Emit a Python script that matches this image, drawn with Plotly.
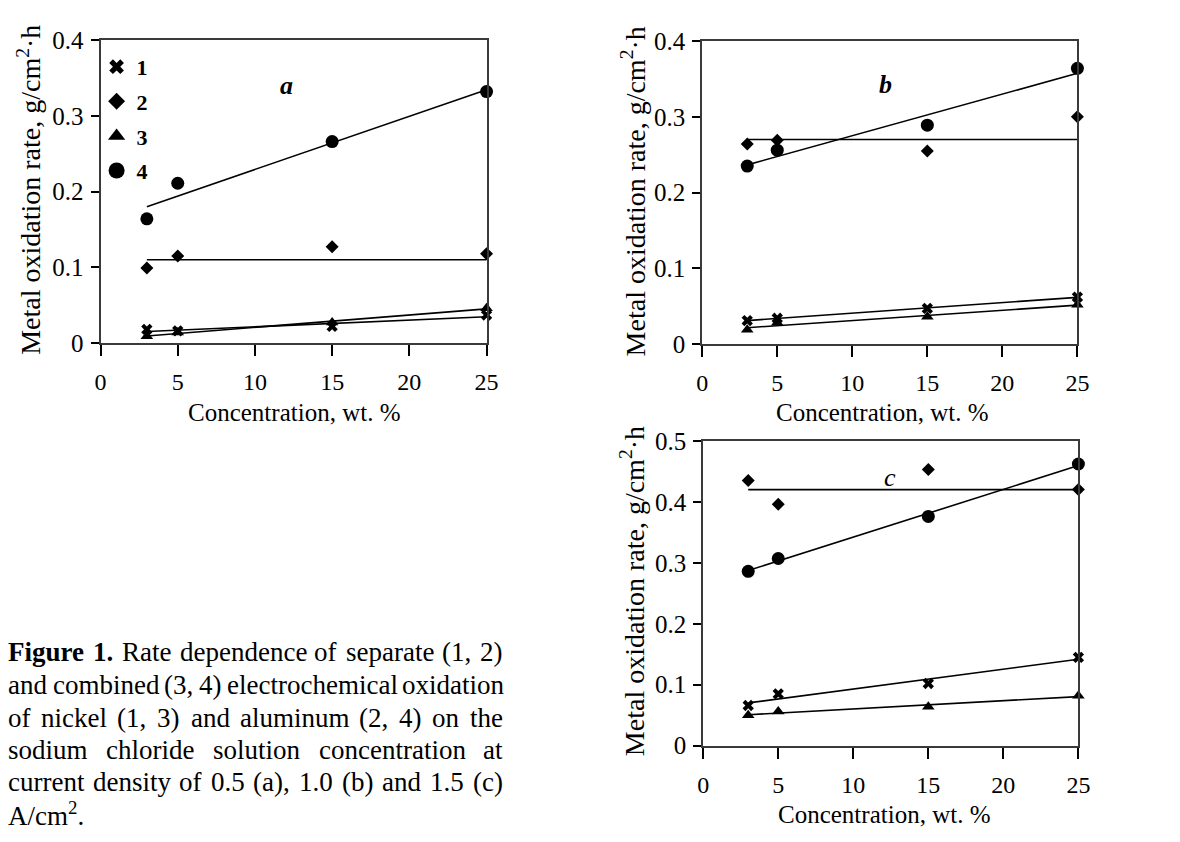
import numpy as np
import plotly.graph_objects as go

# ---------------- data ----------------
conc = [3, 5, 15, 25]

# panel a: 0.5 A/cm2
a_s1 = [0.018, 0.016, 0.022, 0.037]
a_s2 = [0.099, 0.115, 0.127, 0.118]
a_s3 = [0.009, 0.014, 0.027, 0.046]
a_s4 = [0.164, 0.211, 0.266, 0.332]
# panel b: 1.0 A/cm2
b_s1 = [0.031, 0.034, 0.047, 0.062]
b_s2 = [0.264, 0.269, 0.255, 0.300]
b_s3 = [0.019, 0.028, 0.036, 0.052]
b_s4 = [0.235, 0.256, 0.289, 0.364]
# panel c: 1.5 A/cm2
c_s1 = [0.066, 0.085, 0.102, 0.145]
c_s2 = [0.435, 0.396, 0.453, 0.420]
c_s3 = [0.050, 0.056, 0.064, 0.082]
c_s4 = [0.286, 0.307, 0.376, 0.462]

# constant (mean-level) lines drawn for series 2
al_levels = [0.11, 0.27, 0.42]

series_names = ["1", "2", "3", "4"]
panel_letters = ["a", "b", "c"]
y_max = [0.4, 0.4, 0.5]
x_ticks = [0, 5, 10, 15, 20, 25]

# ---------------- style ----------------
FONT = "Liberation Serif"
W, H = 1180, 842
symbols = ["x", "diamond", "triangle-up", "circle"]
msizes = [10, 10, 11, 13]
legend_sizes = [13, 13, 15, 16]

# plot areas in pixels (left, right, top, bottom)
areas = [(96, 488, 28, 341), (707, 1088, 29, 342), (708, 1089, 442, 757)]


def px_x(px):
    return px / W


def px_y(py):
    return 1 - py / H


panels = [
    [a_s1, a_s2, a_s3, a_s4],
    [b_s1, b_s2, b_s3, b_s4],
    [c_s1, c_s2, c_s3, c_s4],
]

fig = go.Figure()

for p, series in enumerate(panels):
    xa = "x" if p == 0 else f"x{p+1}"
    ya = "y" if p == 0 else f"y{p+1}"
    xs = np.array(conc, dtype=float)
    xline = np.array([xs.min(), xs.max()])
    for k, vals in enumerate(series):
        # trend line
        if k == 1:
            yline = np.array([al_levels[p], al_levels[p]])
        else:
            coef = np.polyfit(xs, np.array(vals), 1)
            yline = np.polyval(coef, xline)
        fig.add_trace(go.Scatter(
            x=xline, y=yline, mode="lines", xaxis=xa, yaxis=ya,
            line=dict(color="black", width=1.6), showlegend=False,
            hoverinfo="skip", cliponaxis=False))
    for k, vals in enumerate(series):
        fig.add_trace(go.Scatter(
            x=conc, y=vals, mode="markers", xaxis=xa, yaxis=ya,
            name=f"<b>{series_names[k]}</b>",
            marker=dict(symbol=symbols[k], size=msizes[k], color="black",
                        line=dict(width=0)),
            showlegend=False, cliponaxis=False))

# legend entries (legend-only, larger symbols as in the original key)
for k in range(4):
    fig.add_trace(go.Scatter(
        x=[None], y=[None], mode="markers", name=f"<b>{series_names[k]}</b>",
        legendgroup=f"g{k}",
        marker=dict(symbol=symbols[k], size=legend_sizes[k], color="black",
                    line=dict(width=0)),
        showlegend=True))

layout = dict(
    width=W, height=H, autosize=False,
    margin=dict(l=0, r=0, t=0, b=0),
    paper_bgcolor="white", plot_bgcolor="white",
    font=dict(family=FONT, color="black", size=22),
    showlegend=True,
    legend=dict(x=px_x(92), y=px_y(34), xanchor="left", yanchor="top",
                bgcolor="rgba(0,0,0,0)", font=dict(family=FONT, size=22),
                traceorder="grouped", tracegroupgap=3, itemsizing="trace"),
)

for p in range(3):
    l, r, t, b = areas[p]
    xkey = "xaxis" if p == 0 else f"xaxis{p+1}"
    ykey = "yaxis" if p == 0 else f"yaxis{p+1}"
    yanchor_name = "y" if p == 0 else f"y{p+1}"
    xanchor_name = "x" if p == 0 else f"x{p+1}"
    layout[xkey] = dict(
        domain=[px_x(l), px_x(r)], anchor=yanchor_name, range=[0, 25],
        tickmode="array", tickvals=x_ticks, ticks="outside", ticklen=11,
        tickwidth=1.5, tickcolor="black", showline=True, linecolor="#3a3a3a",
        linewidth=2, mirror=True, showgrid=False, zeroline=False,
        tickfont=dict(family=FONT, size=24), ticklabelstandoff=5,
    )
    layout[ykey] = dict(
        domain=[px_y(b), px_y(t)], anchor=xanchor_name, range=[0, y_max[p]],
        dtick=0.1, tick0=0, ticks="outside", ticklen=8, tickwidth=1.5,
        tickcolor="black", showline=True, linecolor="#3a3a3a", linewidth=2,
        mirror=True, showgrid=False, zeroline=False,
        tickfont=dict(family=FONT, size=25), ticklabelstandoff=2,
    )

fig.update_layout(**layout)

ann = []
# panel letters
letter_pos = [(0.482, 0.905), (0.488, 0.912), (0.499, 0.935)]
for p in range(3):
    xr = "x domain" if p == 0 else f"x{p+1} domain"
    yr = "y domain" if p == 0 else f"y{p+1} domain"
    txt = f"<i>{panel_letters[p]}</i>" if p == 2 else f"<b><i>{panel_letters[p]}</i></b>"
    ann.append(dict(x=letter_pos[p][0], y=letter_pos[p][1], xref=xr, yref=yr,
                    text=txt, showarrow=False, font=dict(family=FONT, size=26)))

# axis titles
x_title = "Concentration, wt. %"
y_title = "Metal oxidation rate, g/cm<sup>2</sup>·h"
for (cx, cy) in [(292, 413), (890, 413), (892, 828)]:
    ann.append(dict(x=px_x(cx), y=px_y(cy), xref="paper", yref="paper",
                    text=x_title, showarrow=False, xanchor="center", yanchor="middle",
                    font=dict(family=FONT, size=25)))
for (cx, cy) in [(23, 183), (637, 184), (637, 597)]:
    ann.append(dict(x=px_x(cx), y=px_y(cy), xref="paper", yref="paper",
                    text=y_title, showarrow=False, textangle=-90,
                    xanchor="center", yanchor="middle",
                    font=dict(family=FONT, size=28)))

# ---------------- caption (justified) ----------------
REG = {" ": 250, "a": 444, "b": 500, "c": 444, "d": 500, "e": 444, "f": 333,
       "g": 500, "h": 500, "i": 278, "j": 278, "k": 500, "l": 278, "m": 778,
       "n": 500, "o": 500, "p": 500, "q": 500, "r": 333, "s": 389, "t": 278,
       "u": 500, "v": 500, "w": 722, "x": 500, "y": 500, "z": 444, "A": 722,
       "C": 667, "F": 556, "R": 667, "(": 333, ")": 333, ",": 250, ".": 250,
       "/": 278, "%": 833}
BOLD = {"F": 611, "i": 278, "g": 500, "u": 556, "r": 444, "e": 444, ".": 250}


def word_w(word, bold, fs):
    tot = 0
    for ch in word:
        if ch.isdigit():
            tot += 500
        elif bold and ch in BOLD:
            tot += BOLD[ch]
        else:
            tot += REG.get(ch, 500)
    return tot * fs / 1000.0


cap_lines = [
    "Figure 1. Rate dependence of separate (1, 2)",
    "and combined (3, 4) electrochemical oxidation",
    "of nickel (1, 3) and aluminum (2, 4) on the",
    "sodium chloride solution concentration at",
    "current density of 0.5 (a), 1.0 (b) and 1.5 (c)",
]
cap_last = "A/cm<sup>2</sup>."
cap_fs = 27
cap_left, cap_right = 1, 503
cap_centers = [660, 694, 728, 761, 794, 828]

for li, line in enumerate(cap_lines):
    words = line.split(" ")
    bolds = [li == 0 and wi < 2 for wi in range(len(words))]
    widths = [word_w(w_, b_, cap_fs) for w_, b_ in zip(words, bolds)]
    gap = (cap_right - cap_left - sum(widths)) / (len(words) - 1)
    xcur = cap_left
    for w_, b_, wd in zip(words, bolds, widths):
        ann.append(dict(x=px_x(xcur), y=px_y(cap_centers[li]), xref="paper", yref="paper",
                        text=f"<b>{w_}</b>" if b_ else w_, showarrow=False,
                        xanchor="left", yanchor="middle", borderpad=0,
                        font=dict(family=FONT, size=cap_fs)))
        xcur += wd + gap
ann.append(dict(x=px_x(cap_left), y=px_y(cap_centers[5]), xref="paper", yref="paper",
                text=cap_last, showarrow=False, xanchor="left", yanchor="middle",
                borderpad=0, font=dict(family=FONT, size=cap_fs)))

fig.update_layout(annotations=ann)
fig.write_html(
    "out.html",
    config={"displayModeBar": False},
    post_script="document.body.style.margin='0px';document.body.style.overflow='hidden';",
)
